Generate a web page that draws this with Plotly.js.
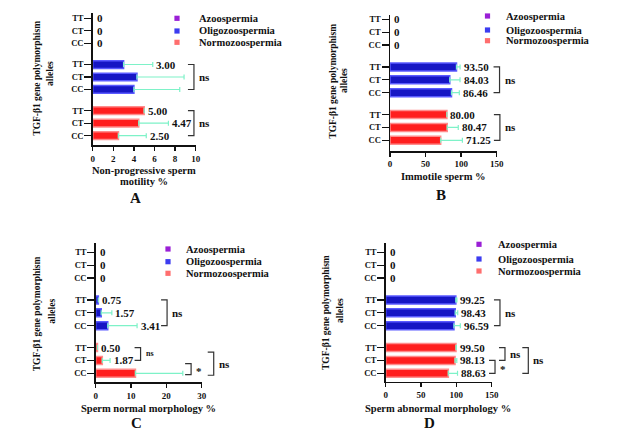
<!DOCTYPE html>
<html><head><meta charset="utf-8">
<script src="https://cdn.plot.ly/plotly-3.0.1.min.js"></script>
<style>html,body{margin:0;padding:0;background:#fff}</style>
</head><body><div id="chart" style="width:626px;height:430px"></div>
<script>
// ---------- DATA ----------
const alleles = ["CC", "CT", "TT"];            // bottom -> top inside each group
const legendNames = ["Azoospermia", "Oligozoospermia", "Normozoospermia"];

// A: Non-progressive sperm motility %
const aAzo = [0, 0, 0];
const aOligo = [4.0, 4.3, 3.00];
const aOligoErr = [4.45, 4.57, 2.83];
const aOligoLbl = ["", "", "3.00"];
const aNormo = [2.50, 4.47, 5.00];
const aNormoErr = [2.7, 2.88, 0];
const aNormoLbl = ["2.50", "4.47", "5.00"];
const aTicks = [0, 2, 4, 6, 8, 10];

// B: Immotile sperm %
const bAzo = [0, 0, 0];
const bOligo = [86.46, 84.03, 93.50];
const bOligoErr = [11, 14.4, 5];
const bOligoLbl = ["86.46", "84.03", "93.50"];
const bNormo = [71.25, 80.47, 80.00];
const bNormoErr = [30.5, 15.5, 0];
const bNormoLbl = ["71.25", "80.47", "80.00"];
const bTicks = [0, 50, 100, 150];

// C: Sperm normal morphology %
const cAzo = [0, 0, 0];
const cOligo = [3.41, 1.57, 0.75];
const cOligoErr = [8.3, 3.0, 0];
const cOligoLbl = ["3.41", "1.57", "0.75"];
const cNormo = [11.25, 1.87, 0.50];
const cNormoErr = [13.4, 2.2, 0];
const cNormoLbl = ["", "1.87", "0.50"];
const cTicks = [0, 10, 20, 30];

// D: Sperm abnormal morphology %
const dAzo = [0, 0, 0];
const dOligo = [96.59, 98.43, 99.25];
const dOligoErr = [9, 3.5, 1.5];
const dOligoLbl = ["96.59", "98.43", "99.25"];
const dNormo = [88.63, 98.13, 99.50];
const dNormoErr = [13, 2.5, 0.5];
const dNormoLbl = ["88.63", "98.13", "99.50"];
const dTicks = [0, 50, 100, 150];

// significance brackets: from/to row positions, x in data units, label
const aBrackets = [{from: 3.7, to: 5.7, x: 9.83, label: "ns"}, {from: 0, to: 2, x: 9.83, label: "ns"}];
const bBrackets = [{from: 3.7, to: 5.7, x: 154, label: "ns"}, {from: 0, to: 2, x: 154.5, label: "ns"}];
const cBrackets = [{from: 3.7, to: 5.7, x: 20.2, label: "ns"}, {from: 1, to: 2, x: 12.7, label: "ns", small: true},
                   {from: -0.1, to: 0.75, x: 27, label: "*"}, {from: -0.15, to: 1.65, x: 33.4, label: "ns"}];
const dBrackets = [{from: 3.7, to: 5.7, x: 161.7, label: "ns"}, {from: 1, to: 2, x: 168.8, label: "ns"},
                   {from: 0, to: 1, x: 154.7, label: "*"}, {from: 0, to: 2, x: 201.8, label: "ns"}];

// ---------- STYLE / LAYOUT ----------
const W = 626, H = 430;
const FONT = "Liberation Serif, Times New Roman, serif";
const groupBase = {Normo: 0, Oligo: 3.7, Azo: 7.4};
const rows = g => alleles.map((a, i) => groupBase[g] + i);
const COL = {
  azo: "#9a1fd6", oligoFill: "#1616c4", oligoLine: "#5a5aff",
  normoFill: "#ff1e1e", normoLine: "#ff8c8c", err: "#7ef2c8",
  legAzo: "#9a1fd6", legOligo: "#3c3cf0", legNormo: "#ff6e6e"
};

const panels = [
  {s: "", xmax: 10, ticks: aTicks, x0: 92.7, x1: 195.7, rowTop: 18.3, rowBot: 135.7, axTop: 13.3, axBot: 145.3,
   azo: aAzo, oligo: aOligo, oligoErr: aOligoErr, oligoLbl: aOligoLbl, normo: aNormo, normoErr: aNormoErr, normoLbl: aNormoLbl,
   brackets: aBrackets, xtitle: ["Non-progressive sperm", "motility %"], xtX: 143.5, xtY: [170, 182],
   letter: "A", letPos: [135, 197], ytX: [36.7, 50], ytY: [78, 74], legX: 177, legTX: 198, legY: [18.3, 31, 42.3]},
  {s: "2", xmax: 150, ticks: bTicks, x0: 390, x1: 496.7, rowTop: 19.3, rowBot: 140.3, axTop: 15, axBot: 151,
   azo: bAzo, oligo: bOligo, oligoErr: bOligoErr, oligoLbl: bOligoLbl, normo: bNormo, normoErr: bNormoErr, normoLbl: bNormoLbl,
   brackets: bBrackets, xtitle: ["Immotile sperm %"], xtX: 443.3, xtY: [177],
   letter: "B", letPos: [440.7, 195], ytX: [332.7, 344], ytY: [81, 81], legX: 487.5, legTX: 505, legY: [16, 30, 40.7]},
  {s: "3", xmax: 30, ticks: cTicks, x0: 95.7, x1: 201.7, rowTop: 252.3, rowBot: 373.3, axTop: 243.3, axBot: 382.3,
   azo: cAzo, oligo: cOligo, oligoErr: cOligoErr, oligoLbl: cOligoLbl, normo: cNormo, normoErr: cNormoErr, normoLbl: cNormoLbl,
   brackets: cBrackets, xtitle: ["Sperm normal morphology %"], xtX: 148.3, xtY: [408.5],
   letter: "C", letPos: [136, 422], ytX: [37.3, 51.7], ytY: [314, 311], legX: 168, legTX: 185, legY: [249, 261.7, 273.3]},
  {s: "4", xmax: 150, ticks: dTicks, x0: 385.7, x1: 491.7, rowTop: 252.3, rowBot: 373.3, axTop: 243.3, axBot: 381.5,
   azo: dAzo, oligo: dOligo, oligoErr: dOligoErr, oligoLbl: dOligoLbl, normo: dNormo, normoErr: dNormoErr, normoLbl: dNormoLbl,
   brackets: dBrackets, xtitle: ["Sperm abnormal morphology %"], xtX: 438.3, xtY: [408],
   letter: "D", letPos: [429, 422.5], ytX: [326, 340], ytY: [313, 310], legX: 479, legTX: 496.7, legY: [244.3, 259, 271]}
];

const traces = [], annotations = [], shapes = [];
const layout = {
  width: W, height: H, margin: {l: 0, r: 0, t: 0, b: 0},
  paper_bgcolor: "#fff", plot_bgcolor: "rgba(0,0,0,0)", showlegend: false,
  font: {family: FONT, color: "#111"}, bargap: 0
};

function ann(text, xpx, ypx, size, opts) {
  annotations.push(Object.assign({
    text: "<b>" + text + "</b>", x: xpx / W, y: 1 - ypx / H, xref: "paper", yref: "paper",
    showarrow: false, xanchor: "center", yanchor: "middle", borderpad: 0,
    font: {family: FONT, size: size, color: "#111"}
  }, opts || {}));
}

panels.forEach(p => {
  const unit = (p.rowBot - p.rowTop) / 9.4;
  const ymin = -(p.axBot - p.rowBot) / unit;
  const ymax = 9.4 + (p.rowTop - p.axTop) / unit;
  const pxX = v => p.x0 + v / p.xmax * (p.x1 - p.x0);
  const pxY = r => p.rowBot - r * unit;
  const xa = "x" + p.s, ya = "y" + p.s;
  const allRows = rows("Normo").concat(rows("Oligo"), rows("Azo"));

  layout["xaxis" + p.s] = {
    domain: [p.x0 / W, p.x1 / W], range: [0, p.xmax], anchor: ya, fixedrange: true,
    tickvals: p.ticks, ticks: "outside", ticklen: 4, tickwidth: 1.3, tickcolor: "#111",
    showline: true, linecolor: "#111", linewidth: 1.5, showgrid: false, zeroline: false,
    tickfont: {family: FONT, size: 9, color: "#111", weight: "bold"}
  };
  layout["yaxis" + p.s] = {
    domain: [1 - p.axBot / H, 1 - p.axTop / H], range: [ymin, ymax], anchor: xa, fixedrange: true,
    tickvals: allRows, ticktext: allRows.map((r, i) => alleles[i % 3]),
    ticks: "outside", ticklen: 7, tickwidth: 1.3, tickcolor: "#111", ticklabelstandoff: -1,
    showline: true, linecolor: "#111", linewidth: 1.5, showgrid: false, zeroline: false,
    tickfont: {family: FONT, size: 8.5, color: "#111", weight: "bold"}
  };

  // bars
  traces.push({type: "bar", orientation: "h", x: p.azo, y: rows("Azo"), xaxis: xa, yaxis: ya, width: 0.62,
    marker: {color: COL.azo, line: {width: 0}}, hoverinfo: "skip"});
  [["oligo", COL.oligoFill, COL.oligoLine, "Oligo"], ["normo", COL.normoFill, COL.normoLine, "Normo"]].forEach(([k, fill, line, g]) => {
    traces.push({type: "bar", orientation: "h", x: p[k], y: rows(g), xaxis: xa, yaxis: ya, width: 0.62,
      marker: {color: fill, line: {color: line, width: 1.5}}, hoverinfo: "skip",
      error_x: {type: "data", symmetric: false, array: p[k + "Err"], arrayminus: p[k].map(() => 0),
        color: COL.err, thickness: 1.2, width: 2.5}});
    // value labels
    p[k].forEach((v, i) => {
      const lbl = p[k + "Lbl"][i];
      if (!lbl) return;
      ann(lbl, pxX(v + p[k + "Err"][i]) + 2.5, pxY(rows(g)[i]), 11, {xanchor: "left"});
    });
  });
  // zero labels for Azoospermia
  p.azo.forEach((v, i) => ann(String(v), pxX(v) + 3, pxY(rows("Azo")[i]), 11, {xanchor: "left"}));

  // brackets
  p.brackets.forEach(b => {
    const bx = pxX(b.x), y1 = pxY(b.from), y2 = pxY(b.to), tk = 6;
    const path = `M${(bx - tk) / W},${1 - y2 / H}L${bx / W},${1 - y2 / H}L${bx / W},${1 - y1 / H}L${(bx - tk) / W},${1 - y1 / H}`;
    shapes.push({type: "path", xref: "paper", yref: "paper", path: path, line: {color: "#333", width: 1.2}});
    ann(b.label, bx + 4, (y1 + y2) / 2 + (b.label === "*" ? 2 : 0), b.small ? 8 : 11, {xanchor: "left"});
  });

  // axis titles
  p.xtitle.forEach((t, i) => ann(t, p.xtX, p.xtY[i], 10.5, {height: 11}));
  ann(p.letter, p.letPos[0], p.letPos[1], 15, {height: 13});
  ann("TGF-β1 gene polymorphism", p.ytX[0], p.ytY[0], 9.5, {textangle: -90});
  ann("alleles", p.ytX[1], p.ytY[1], 9.5, {textangle: -90});

  // legend
  const legCols = [COL.legAzo, COL.legOligo, COL.legNormo];
  legendNames.forEach((n, i) => {
    const s = 2.6;
    shapes.push({type: "rect", xref: "paper", yref: "paper",
      x0: (p.legX - s) / W, x1: (p.legX + s) / W, y0: 1 - (p.legY[i] + s) / H, y1: 1 - (p.legY[i] - s) / H,
      fillcolor: legCols[i], line: {width: 0}});
    ann(n, p.legTX, p.legY[i], 10.5, {xanchor: "left"});
  });
});

layout.annotations = annotations;
layout.shapes = shapes;
Plotly.newPlot("chart", traces, layout, {staticPlot: true, displayModeBar: false});
</script></body></html>
